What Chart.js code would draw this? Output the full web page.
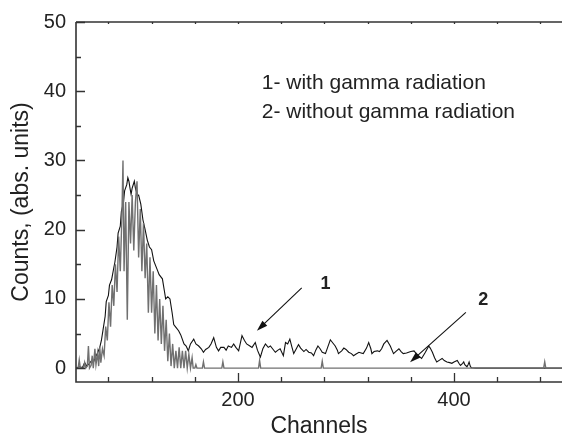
<!DOCTYPE html>
<html>
<head>
<meta charset="utf-8">
<script src="https://cdn.jsdelivr.net/npm/chart.js@4"></script>
<style>
  body { margin: 0; background: #fff; }
  #wrap { width: 562px; height: 440px; }
</style>
</head>
<body>
<div id="wrap"><canvas id="spectrumChart"></canvas></div>
<script>
// curve 1 - with gamma radiation
const channels1 = [50, 53, 56, 58, 60, 62, 64, 66, 68, 70, 72, 73.5, 75, 77, 78, 80, 81, 83, 85, 86, 88, 89, 91, 92, 94, 95, 97, 98, 99, 100,
  101, 102, 104, 105, 107, 108, 110, 112, 114, 116, 118, 120, 122, 125, 127, 130, 132, 133, 135, 137, 139, 140.5, 142, 145, 147, 150,
  152, 154, 156, 159, 161, 163.6, 166, 168, 170, 173, 175, 177.5, 180, 182, 184, 187, 189, 191, 194, 196, 198, 200.6, 203.7, 206,
  208, 211, 213, 216, 218, 220.7, 223, 225.4, 228, 230, 232, 234.6, 237, 239, 242, 244, 246, 248, 250, 251.6, 254, 256, 258, 261,
  263, 265.5, 268, 270, 272, 274, 276, 278, 281, 283, 285.5, 288, 290, 292, 293, 296, 298, 300, 302.5, 305, 307, 309, 312, 314,
  316, 319, 321, 323, 324, 326, 329, 331, 333, 335, 338, 341, 344, 346, 349, 351, 353, 356, 358, 360, 363, 365, 367, 370, 373.5,
  376.6, 378, 380, 382, 384, 387, 389, 391, 393.5, 396, 398, 400, 403, 405, 406, 408, 409, 410, 412, 413, 414, 415, 416, 420, 500];
const counts1 = [0, 0.2, 0.1, 0.8, 0.3, 0.6, 1.0, 0.8, 1.6, 2.2, 3.0, 4, 5.5, 7.5, 9.6, 10.5, 12, 12.8, 14.5, 15.3, 17.5, 19.5, 20.5, 22.6, 24, 25.6, 26.5, 27.5, 27, 26,
  25.1, 26, 27, 26, 24.9, 25, 23.7, 21.4, 20, 18.5, 17.5, 17.1, 15.5, 14.3, 13.5, 12.9, 11, 10, 10.3, 10, 8, 6.3, 6, 5.4, 4.8, 3.5,
  3.2, 2.5, 3.5, 4.2, 3.5, 3.2, 2.8, 2.3, 2.7, 3.0, 3.5, 4.4, 3.0, 2.5, 3.0, 3.0, 2.6, 3.2, 3.0, 3.5, 3.0, 2.5, 4.7, 4.0,
  3.5, 3.2, 3.0, 3.7, 2.6, 1.6, 2.8, 3.5, 3.0, 3.2, 2.8, 2.3, 2.6, 2.8, 1.8, 3.7, 3.5, 4.2, 3.0, 2.1, 2.8, 3.4, 2.9, 2.4,
  2.7, 2.3, 2.2, 1.8, 2.6, 3.2, 2.8, 2.3, 2.1, 3.0, 4.1, 3.6, 3.2, 2.6, 2.1, 2.5, 2.9, 2.7, 2.3, 2.1, 1.8, 2.0, 2.3, 2.2,
  2.1, 2.9, 3.7, 2.8, 2.1, 2.4, 2.5, 2.4, 2.8, 3.5, 4.0, 3.2, 2.1, 2.4, 2.8, 2.4, 2.1, 2.2, 2.3, 2.4, 2.5, 2.1, 1.8, 1.4, 2.3,
  3.2, 2.9, 2.3, 1.5, 0.9, 1.2, 1.4, 1.1, 0.9, 0.8, 0.7, 0.9, 1.1, 0.6, 0.4, 0.7, 0.9, 0.5, 0.2, 0.5, 0.9, 0.3, 0.05, 0, 0];

// curve 2 - without gamma radiation
const channels2 = [50, 52, 53, 54, 57, 58, 59, 60.5, 61.5, 62.5, 64, 65, 66, 67.5, 68.5, 70, 71, 72, 73, 74.5, 76, 77.5, 79, 80.5,
  82, 83.5, 85, 86.5, 88, 89.5, 91, 92.5, 93.5, 94.5, 96, 97.5, 99, 100.5, 102, 103.5, 105, 106.5, 108, 109.5, 111, 112.5,
  114, 115.5, 117, 118.5, 120, 121.5, 123, 124.5, 126, 127.5, 129, 130.5, 132, 133.5, 135, 136.5, 138, 139.5, 141, 142.5,
  144, 145.5, 147, 148.5, 150, 151.5, 153, 154.5, 156, 157.5, 158.5, 160, 161, 162, 167, 168, 169, 185, 186, 187, 219, 220,
  221, 277, 278, 279, 483, 484, 485, 500];
const counts2 = [0, 0, 1.2, 0, 0, 0.8, 0, 0.3, 3.2, 0, 0.4, 1.8, 0, 2.8, 0.5, 2.2, 0.3, 3.0, 0.8, 2.8, 1.8, 6, 4, 9.5,
  6, 12, 9, 15, 11, 19, 14, 22, 30, 14, 24, 7, 24, 18, 25, 17, 24, 27, 16, 23, 14, 21,
  13, 18, 8, 16, 8, 14, 5, 12, 4, 10, 3.5, 9, 2.5, 7, 1, 5, 0.3, 3.5, 0, 2.5,
  0, 3, 0, 2.5, 0, 2.5, 0, 2, 0, 1.5, 0, 0, 0.5, 0, 0, 0.9, 0, 0, 0.9, 0, 0, 1.1,
  0, 0, 1.0, 0, 0, 0.9, 0, 0];

const xTicks = [80, 120, 160, 200, 240, 280, 320, 360, 400, 440, 480];
const xLabels = [200, 400];
const yTicks = [0, 5, 10, 15, 20, 25, 30, 35, 40, 45, 50];
const yLabels = [0, 10, 20, 30, 40, 50];

const legendLines = ["1- with gamma radiation", "2- without gamma radiation"];
const legendAnchor = [{ x: 222, y: 40.3 }, { x: 222, y: 36.2 }];
const markLabels = ["1", "2"];
const markLabelPos = [{ x: 281, y: 12.1 }, { x: 427, y: 9.9 }];
const arrows = [
  { from: { x: 259, y: 11.6 }, to: { x: 217.5, y: 5.4 } },
  { from: { x: 411, y: 8.05 }, to: { x: 359.3, y: 0.85 } }
];

const FONT = "'Liberation Sans', Arial, sans-serif";
const INK = "#222";

function toPoints(xs, ys) {
  return xs.map((x, i) => ({ x: x, y: ys[i] }));
}

function drawArrow(ctx, x1, y1, x2, y2) {
  const ang = Math.atan2(y2 - y1, x2 - x1);
  const len = 11, half = 3.5;
  ctx.beginPath();
  ctx.moveTo(x1, y1);
  ctx.lineTo(x2 - Math.cos(ang) * len * 0.8, y2 - Math.sin(ang) * len * 0.8);
  ctx.stroke();
  ctx.beginPath();
  ctx.moveTo(x2, y2);
  ctx.lineTo(x2 - Math.cos(ang) * len - Math.sin(ang) * half, y2 - Math.sin(ang) * len + Math.cos(ang) * half);
  ctx.lineTo(x2 - Math.cos(ang) * len + Math.sin(ang) * half, y2 - Math.sin(ang) * len - Math.cos(ang) * half);
  ctx.closePath();
  ctx.fill();
}

// axes box, inward ticks, text notes and arrows
const framePlugin = {
  id: "frame",
  afterDraw(chart) {
    const ctx = chart.ctx;
    const a = chart.chartArea;
    const xs = chart.scales.x, ys = chart.scales.y;
    ctx.save();
    ctx.strokeStyle = "#333";
    ctx.lineWidth = 1.6;
    ctx.beginPath();
    ctx.moveTo(a.left, a.top);
    ctx.lineTo(a.left, a.bottom);
    ctx.lineTo(a.right, a.bottom);
    ctx.moveTo(a.left, a.top);
    ctx.lineTo(a.right, a.top);
    ctx.stroke();

    ctx.lineWidth = 1.3;
    ctx.beginPath();
    xTicks.forEach(v => {
      const px = Math.round(xs.getPixelForValue(v)) + 0.5;
      const l = xLabels.includes(v) ? 9 : 5;
      ctx.moveTo(px, a.bottom);
      ctx.lineTo(px, a.bottom - l);
      ctx.moveTo(px, a.top);
      ctx.lineTo(px, a.top + 2);
    });
    yTicks.forEach(v => {
      const py = Math.round(ys.getPixelForValue(v)) + 0.5;
      const l = yLabels.includes(v) ? 9 : 5;
      ctx.moveTo(a.left, py);
      ctx.lineTo(a.left + l, py);
    });
    ctx.stroke();

    ctx.fillStyle = INK;
    ctx.font = "21px " + FONT;
    ctx.textAlign = "left";
    ctx.textBaseline = "alphabetic";
    legendLines.forEach((t, i) => {
      ctx.fillText(t, xs.getPixelForValue(legendAnchor[i].x), ys.getPixelForValue(legendAnchor[i].y));
    });

    ctx.font = "bold 18px " + FONT;
    ctx.textAlign = "center";
    ctx.textBaseline = "middle";
    markLabels.forEach((t, i) => {
      ctx.fillText(t, xs.getPixelForValue(markLabelPos[i].x), ys.getPixelForValue(markLabelPos[i].y));
    });

    ctx.strokeStyle = "#111";
    ctx.fillStyle = "#111";
    ctx.lineWidth = 1.1;
    arrows.forEach(ar => {
      drawArrow(ctx,
        xs.getPixelForValue(ar.from.x), ys.getPixelForValue(ar.from.y),
        xs.getPixelForValue(ar.to.x), ys.getPixelForValue(ar.to.y));
    });
    ctx.restore();
  }
};

const ctx = document.getElementById("spectrumChart").getContext("2d");
new Chart(ctx, {
  type: "scatter",
  data: {
    datasets: [
      {
        label: "1",
        data: toPoints(channels1, counts1),
        showLine: true,
        borderColor: "#111",
        borderWidth: 1.1,
        pointRadius: 0,
        tension: 0,
        order: 2
      },
      {
        label: "2",
        data: toPoints(channels2, counts2),
        showLine: true,
        borderColor: "#707070",
        borderWidth: 1.4,
        pointRadius: 0,
        tension: 0,
        order: 1
      }
    ]
  },
  options: {
    responsive: true,
    maintainAspectRatio: false,
    animation: false,
    layout: { padding: { top: 14, right: 0, left: 0, bottom: 0 } },
    plugins: {
      legend: { display: false },
      tooltip: { enabled: false }
    },
    scales: {
      x: {
        type: "linear",
        min: 50,
        max: 500,
        afterBuildTicks: s => { s.ticks = xTicks.map(v => ({ value: v })); },
        afterFit: s => { s.height = 58; },
        grid: { display: false, drawTicks: false },
        border: { display: false },
        ticks: {
          autoSkip: false,
          maxRotation: 0,
          padding: 6,
          color: INK,
          font: { family: FONT, size: 20 },
          callback: v => xLabels.includes(v) ? String(v) : ""
        },
        title: {
          display: true,
          text: "Channels",
          color: INK,
          font: { family: FONT, size: 23 },
          padding: { top: 0, bottom: 0 }
        }
      },
      y: {
        type: "linear",
        min: -2,
        max: 50,
        afterBuildTicks: s => { s.ticks = yTicks.map(v => ({ value: v })); },
        afterFit: s => { s.width = 76; },
        grid: { display: false, drawTicks: false },
        border: { display: false },
        ticks: {
          autoSkip: false,
          padding: 10,
          color: INK,
          font: { family: FONT, size: 20 },
          callback: v => yLabels.includes(v) ? String(v) : ""
        },
        title: {
          display: true,
          text: "Counts, (abs. units)",
          color: INK,
          font: { family: FONT, size: 23 },
          padding: { top: 8, bottom: 0 }
        }
      }
    }
  },
  plugins: [framePlugin]
});
</script>
</body>
</html>
